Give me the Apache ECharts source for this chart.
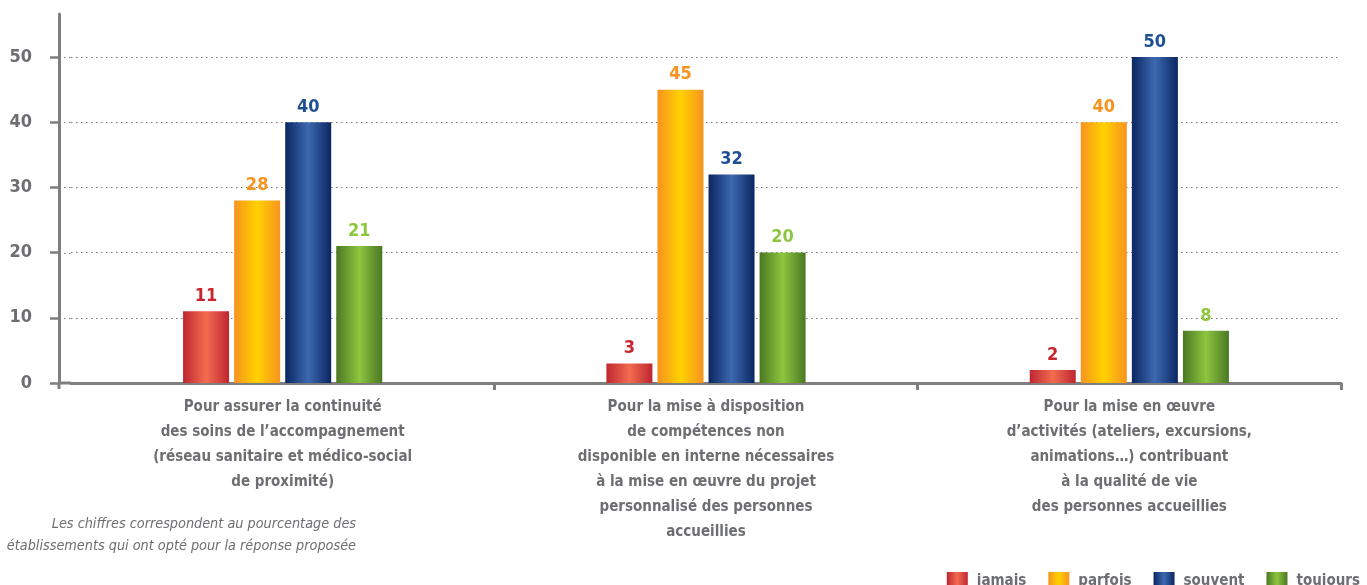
<!DOCTYPE html>
<html lang="fr">
<head>
<meta charset="utf-8">
<title>Recours aux partenaires extérieurs</title>
<script src="https://cdn.jsdelivr.net/npm/echarts@6/dist/echarts.min.js"></script>
<style>
  html, body { margin: 0; padding: 0; background: #ffffff; }
  #chart { width: 1367px; height: 585px; }
</style>
</head>
<body>
<div id="chart"></div>
<script>
// Categories (x axis), one per reason
const categories = [
  'Pour assurer la continuité\ndes soins de l’accompagnement\n(réseau sanitaire et médico-social\nde proximité)',
  'Pour la mise à disposition\nde compétences non\ndisponible en interne nécessaires\nà la mise en œuvre du projet\npersonnalisé des personnes\naccueillies',
  'Pour la mise en œuvre\nd’activités (ateliers, excursions,\nanimations…) contribuant\nà la qualité de vie\ndes personnes accueillies'
];

// Series names and values (% of establishments)
const seriesNames = ['jamais', 'parfois', 'souvent', 'toujours'];
const jamais   = [11, 3, 2];
const parfois  = [28, 45, 40];
const souvent  = [40, 32, 50];
const toujours = [21, 20, 8];

// Y axis tick labels
const yTicks = [0, 10, 20, 30, 40, 50];

const noteText = 'Les chiffres correspondent au pourcentage des\nétablissements qui ont opté pour la réponse proposée';

const FONT = "'Liberation Sans Narrow', 'DejaVu Sans Condensed', 'Roboto', sans-serif";
const GREY = '#6d6e71';
const AXIS = '#7f7f7f';
const GRIDLINE = '#7a7a7a';

// Cylinder-like horizontal gradients: dark edges, light center
function barGradient(edge, center) {
  return new echarts.graphic.LinearGradient(0, 0, 1, 0, [
    { offset: 0, color: edge },
    { offset: 0.5, color: center },
    { offset: 1, color: edge }
  ]);
}

const palette = [
  { fill: barGradient('#bf2630', '#f26c50'), label: '#c8252f' },
  { fill: barGradient('#f7931e', '#ffd200'), label: '#f7931e' },
  { fill: barGradient('#0a2661', '#3d69b1'), label: '#1f4f92' },
  { fill: barGradient('#4b7823', '#8dc63f'), label: '#8dc63f' }
];

const values = [jamais, parfois, souvent, toujours];

const chart = echarts.init(document.getElementById('chart'), null, { renderer: 'canvas' });

// plot area; the vertical axis is pulled left onto x = 59
const gridLeft = 71, gridRightEdge = 1341, gridTop = 14, baseY = 383;
const yAxisX = 59;
const yMax = 56.6;

chart.setOption({
  animation: false,
  backgroundColor: '#ffffff',
  textStyle: { fontFamily: FONT },
  title: {
    text: noteText,
    left: 356,
    top: 513,
    padding: 0,
    textAlign: 'right',
    textStyle: {
      fontFamily: FONT,
      fontStyle: 'italic',
      fontWeight: 'normal',
      fontSize: 14.3,
      lineHeight: 22,
      color: GREY,
      align: 'right'
    }
  },
  legend: {
    right: 2,
    top: 567,
    itemWidth: 21,
    itemHeight: 18,
    itemGap: 22,
    icon: 'rect',
    textStyle: { fontFamily: FONT, fontWeight: 'bold', fontSize: 15, color: GREY, padding: [0, 0, 0, 4] },
    data: seriesNames
  },
  grid: { left: gridLeft, right: 1367 - gridRightEdge, top: gridTop, bottom: 585 - baseY, containLabel: false },
  xAxis: {
    type: 'category',
    data: categories,
    boundaryGap: true,
    axisLine: { lineStyle: { color: AXIS, width: 3 } },
    axisTick: {
      show: true,
      length: 7,
      // no boundary tick next to the vertical axis
      interval: (index) => index > 0,
      lineStyle: { color: AXIS, width: 3 }
    },
    axisLabel: {
      interval: 0,
      margin: 12,
      fontFamily: FONT,
      fontWeight: 'bold',
      fontSize: 15,
      lineHeight: 25,
      color: GREY,
      align: 'center'
    },
    splitLine: { show: false }
  },
  yAxis: {
    type: 'value',
    min: 0,
    max: yMax,
    interval: 10,
    offset: gridLeft - yAxisX,
    axisLine: { show: true, lineStyle: { color: AXIS, width: 3 } },
    axisTick: { show: true, length: 9, customValues: yTicks, lineStyle: { color: AXIS, width: 2.5 } },
    axisLabel: {
      customValues: yTicks,
      margin: 27,
      fontFamily: FONT,
      fontWeight: 'bold',
      fontSize: 18,
      color: GREY
    },
    splitLine: {
      show: true,
      showMinLine: false,
      showMaxLine: true,
      lineStyle: { color: GRIDLINE, type: [1.5, 3.5], width: 1.2 }
    }
  },
  graphic: [
    {
      // joins the bottom axis to the offset vertical axis
      type: 'line',
      shape: { x1: yAxisX, y1: baseY, x2: gridLeft, y2: baseY },
      style: { stroke: AXIS, lineWidth: 3 },
      z: 10
    },
    {
      // vertical axis runs a little below the baseline
      type: 'line',
      shape: { x1: yAxisX, y1: baseY, x2: yAxisX, y2: baseY + 6 },
      style: { stroke: AXIS, lineWidth: 3 },
      z: 10
    },
    {
      // dotted grid lines continue left to the vertical axis
      type: 'group',
      children: yTicks.slice(1).map(v => ({
        type: 'line',
        shape: { x1: yAxisX, y1: 0, x2: gridLeft, y2: 0 },
        style: { stroke: GRIDLINE, lineWidth: 1.2, lineDash: [1.5, 3.5] },
        y: Math.round(baseY - (baseY - gridTop) * v / yMax) + 0.5
      }))
    }
  ],
  series: seriesNames.map((name, i) => ({
    name,
    type: 'bar',
    data: values[i],
    barWidth: 46,
    barGap: '11%',
    itemStyle: { color: palette[i].fill },
    label: {
      show: true,
      position: 'top',
      distance: 6,
      fontFamily: FONT,
      fontWeight: 'bold',
      fontSize: 18,
      color: palette[i].label
    },
    z: 3
  }))
});
</script>
</body>
</html>
